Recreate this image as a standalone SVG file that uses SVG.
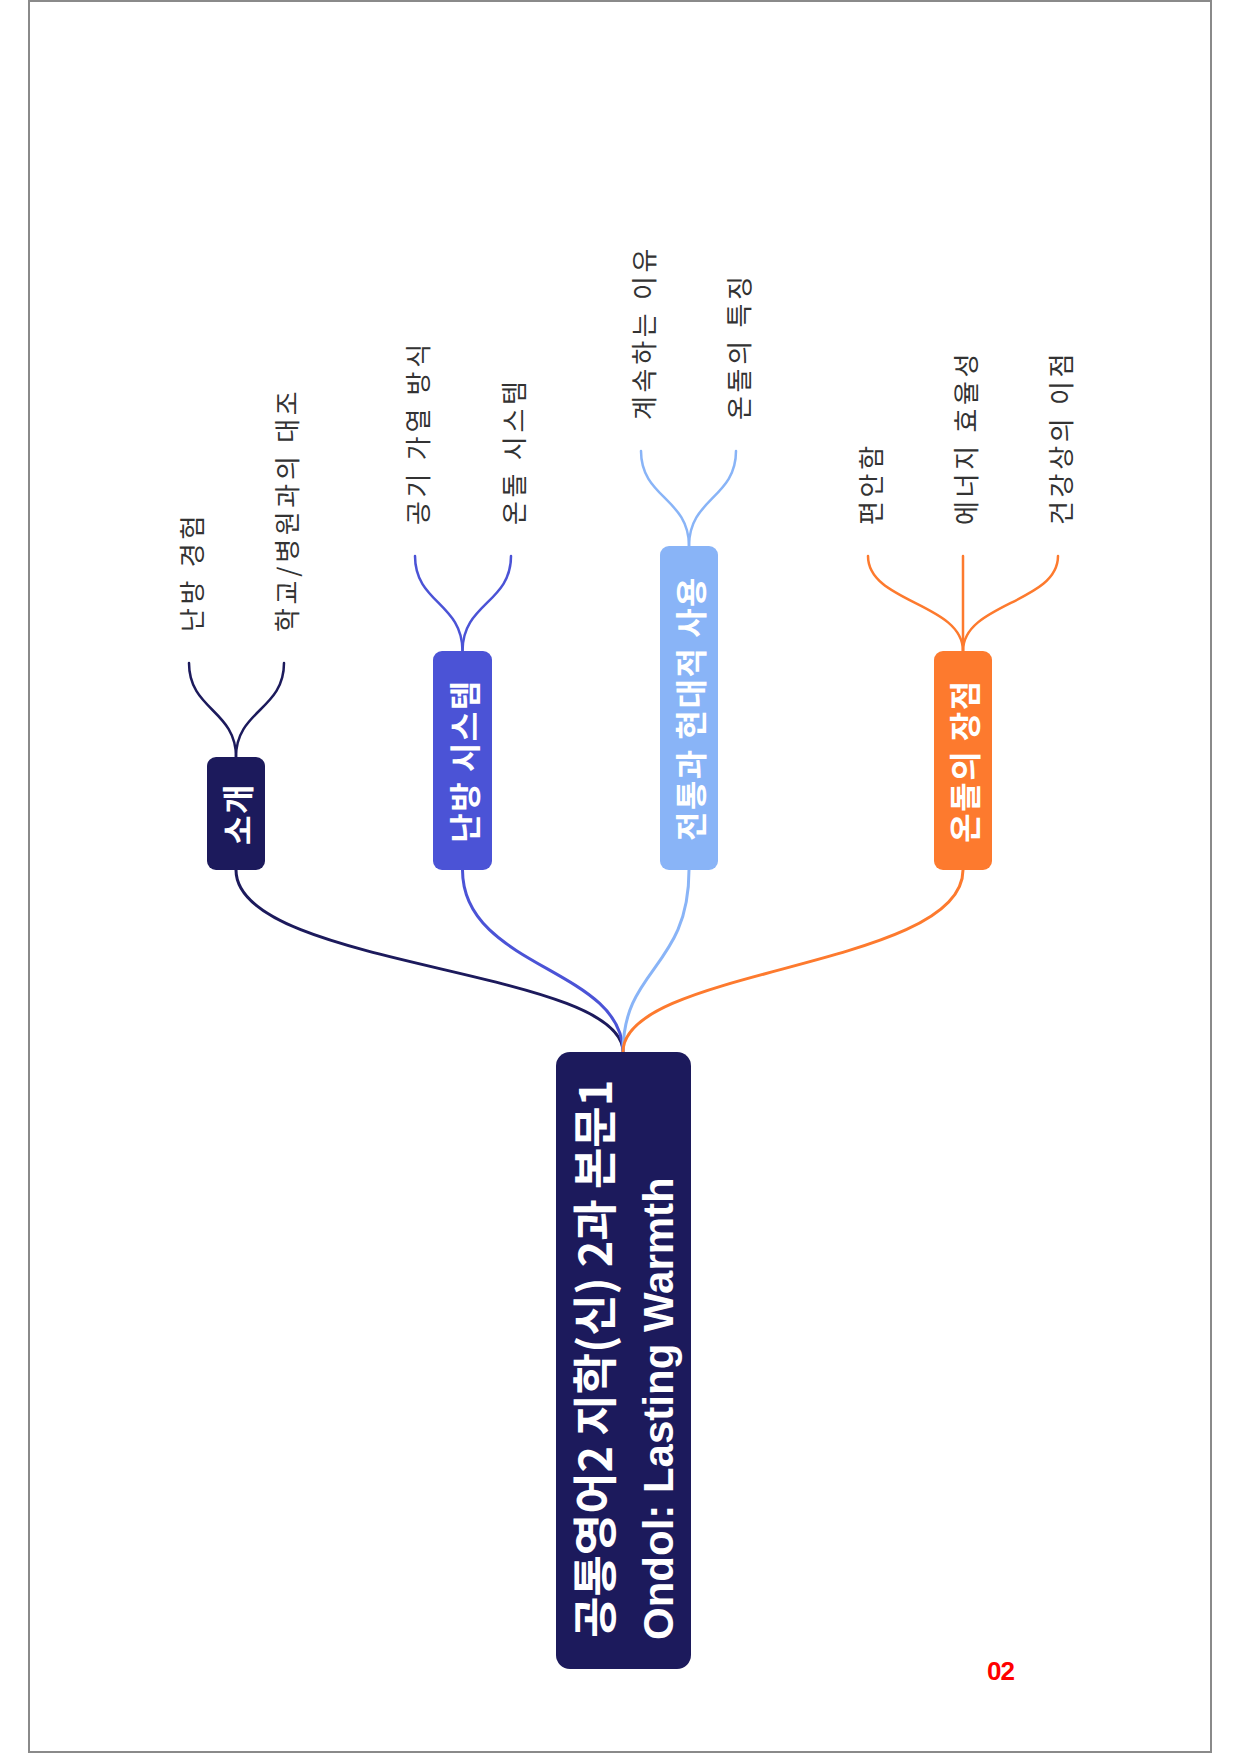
<svg xmlns="http://www.w3.org/2000/svg" width="1240" height="1754" viewBox="0 0 1240 1754">
  <style>
    .ko { font-family: "Noto Sans CJK KR", "Noto Sans", sans-serif; }
    .lat { font-family: "Liberation Sans", Arial, sans-serif; }
    .root-t { font-weight: 700; fill: #ffffff; dominant-baseline: central; }
    .branch-t { font-size: 32px; font-weight: 700; fill: #ffffff; dominant-baseline: central; text-anchor: middle; letter-spacing: 1.5px; }
    .leaf-t { font-size: 26px; font-weight: 400; fill: #333333; dominant-baseline: central; text-anchor: start; letter-spacing: 3.7px; }
    .link { fill: none; stroke-width: 3; stroke-linecap: round; }
    .sub { fill: none; stroke-width: 2.5; stroke-linecap: round; }
    .navy { stroke: #1c1a5c; }
    .blue { stroke: #4b53d6; }
    .sky { stroke: #89b4f7; }
    .orange { stroke: #fd7a2e; }
  </style>

  <!-- page frame -->
  <rect x="29" y="1" width="1182" height="1751" fill="#ffffff" stroke="#8a8a8a" stroke-width="2"/>

  <!-- connectors -->
  <g id="connectors">
    <!-- root to branches -->
    <path class="link navy" d="M236 870 C236 968 623 968 623 1052"/>
    <path class="link blue" d="M462.5 870 C462.5 968 623 968 623 1052"/>
    <path class="link sky" d="M689 870 C689 968 623 968 623 1052"/>
    <path class="link orange" d="M963 870 C963 968 623 968 623 1052"/>
    <!-- branch to leaves -->
    <path class="sub navy" d="M236 757 C236 710 189 710 189 663"/>
    <path class="sub navy" d="M236 757 C236 710 284 710 284 663"/>
    <path class="sub blue" d="M462.5 651 C462.5 603 415 603 415 556"/>
    <path class="sub blue" d="M462.5 651 C462.5 603 511 603 511 556"/>
    <path class="sub sky" d="M689 546 C689 498 641 498 641 451"/>
    <path class="sub sky" d="M689 546 C689 498 736 498 736 451"/>
    <path class="sub orange" d="M963 651 C963 603 868 603 868 556"/>
    <path class="sub orange" d="M963 651 L963 556"/>
    <path class="sub orange" d="M963 651 C963 603 1058 603 1058 556"/>
  </g>

  <!-- root -->
  <g id="root">
    <rect x="556" y="1052" width="135" height="617" rx="14" fill="#1c1a5c"/>
    <text class="ko root-t" font-size="45" transform="translate(592 1638) rotate(-90)">공통영어2 지학(신) 2과 본문1</text>
    <text class="lat root-t" font-size="42" transform="translate(658 1640) rotate(-90)">Ondol: Lasting Warmth</text>
  </g>

  <!-- branches -->
  <g id="branch-intro">
    <rect x="207" y="757" width="58" height="113" rx="9" fill="#1c1a5c"/>
    <text class="ko branch-t" transform="translate(236 814) rotate(-90)">소개</text>
  </g>
  <g id="branch-heating">
    <rect x="433" y="651" width="59" height="219" rx="9" fill="#4b53d6"/>
    <text class="ko branch-t" transform="translate(462.5 761) rotate(-90)">난방 시스템</text>
  </g>
  <g id="branch-tradition">
    <rect x="660" y="546" width="58" height="324" rx="9" fill="#89b4f7"/>
    <text class="ko branch-t" transform="translate(689 708.5) rotate(-90)">전통과 현대적 사용</text>
  </g>
  <g id="branch-merits">
    <rect x="934" y="651" width="58" height="219" rx="9" fill="#fd7a2e"/>
    <text class="ko branch-t" transform="translate(963 761) rotate(-90)">온돌의 장점</text>
  </g>

  <!-- leaves -->
  <g id="leaf-heating-exp">
    <text class="ko leaf-t" transform="translate(190 632) rotate(-90)">난방 경험</text>
  </g>
  <g id="leaf-contrast">
    <text class="ko leaf-t" transform="translate(285 632) rotate(-90)">학교/병원과의 대조</text>
  </g>
  <g id="leaf-air">
    <text class="ko leaf-t" transform="translate(416 525) rotate(-90)">공기 가열 방식</text>
  </g>
  <g id="leaf-ondol-system">
    <text class="ko leaf-t" transform="translate(512 525) rotate(-90)">온돌 시스템</text>
  </g>
  <g id="leaf-reason">
    <text class="ko leaf-t" transform="translate(642 420) rotate(-90)">계속하는 이유</text>
  </g>
  <g id="leaf-features">
    <text class="ko leaf-t" transform="translate(737 420) rotate(-90)">온돌의 특징</text>
  </g>
  <g id="leaf-comfort">
    <text class="ko leaf-t" transform="translate(869 525) rotate(-90)">편안함</text>
  </g>
  <g id="leaf-energy">
    <text class="ko leaf-t" transform="translate(964 525) rotate(-90)">에너지 효율성</text>
  </g>
  <g id="leaf-health">
    <text class="ko leaf-t" transform="translate(1059 525) rotate(-90)">건강상의 이점</text>
  </g>

  <!-- page number -->
  <text class="lat" x="987" y="1680" font-size="26" font-weight="700" fill="#ff0000" letter-spacing="-1">02</text>
</svg>
